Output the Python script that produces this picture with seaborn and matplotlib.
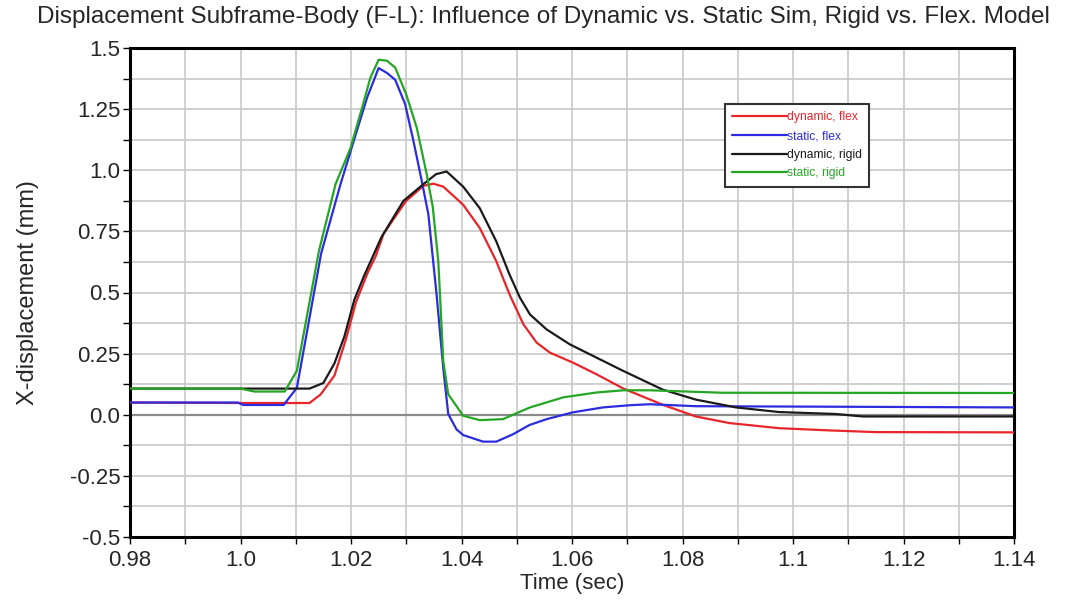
import numpy as np
import pandas as pd
import matplotlib
matplotlib.use("Agg")
import matplotlib.pyplot as plt
from matplotlib.ticker import MultipleLocator
import seaborn as sns

# series (time in sec, displacement in mm)
t_dyn_flex = [0.98, 1.0, 1.0125, 1.0145, 1.017, 1.0191, 1.0209, 1.023, 1.0245, 1.0259, 1.028, 1.030,
              1.0331, 1.0349, 1.0367, 1.0403, 1.0433, 1.0463, 1.0487, 1.0512, 1.0536, 1.056, 1.0602,
              1.0644, 1.0693, 1.0764, 1.0824, 1.0885, 1.0975, 1.1066, 1.115, 1.14]
y_dyn_flex = [0.05, 0.048, 0.048, 0.083, 0.16, 0.31, 0.46, 0.58, 0.65, 0.74, 0.81, 0.875,
              0.936, 0.945, 0.933, 0.859, 0.764, 0.628, 0.492, 0.37, 0.295, 0.254, 0.213,
              0.166, 0.107, 0.041, -0.007, -0.034, -0.055, -0.064, -0.071, -0.072]

t_sta_flex = [0.98, 0.9995, 1.0005, 1.0078, 1.0102, 1.0146, 1.0181, 1.0205, 1.0229, 1.025, 1.0265,
              1.028, 1.0298, 1.0313, 1.0328, 1.034, 1.0355, 1.0367, 1.0376, 1.0391, 1.0403, 1.0439,
              1.0463, 1.0493, 1.0523, 1.0554, 1.0602, 1.0656, 1.0705, 1.0741, 1.0824, 1.14]
y_sta_flex = [0.05, 0.05, 0.04, 0.04, 0.11, 0.66, 0.943, 1.12, 1.296, 1.418, 1.398,
              1.37, 1.27, 1.12, 0.957, 0.82, 0.49, 0.19, 0.003, -0.06, -0.083, -0.11,
              -0.11, -0.08, -0.042, -0.018, 0.01, 0.03, 0.039, 0.043, 0.035, 0.03]

t_dyn_rigid = [0.98, 1.0125, 1.015, 1.017, 1.0188, 1.0206, 1.0224, 1.024, 1.0255, 1.0295, 1.0331,
               1.0354, 1.0373, 1.0403, 1.0433, 1.0463, 1.0487, 1.0506, 1.0524, 1.0554, 1.0596,
               1.0644, 1.0693, 1.0764, 1.0824, 1.0897, 1.0975, 1.1078, 1.1126, 1.14]
y_dyn_rigid = [0.107, 0.107, 0.13, 0.21, 0.32, 0.47, 0.57, 0.65, 0.726, 0.875, 0.943,
               0.984, 0.995, 0.933, 0.845, 0.709, 0.573, 0.478, 0.41, 0.349, 0.288,
               0.234, 0.179, 0.103, 0.062, 0.03, 0.011, 0.003, -0.007, -0.007]

t_sta_rigid = [0.98, 1.0, 1.0025, 1.008, 1.0102, 1.0142, 1.0172, 1.0199, 1.022, 1.0235, 1.025,
               1.0265, 1.028, 1.030, 1.0319, 1.0337, 1.0348, 1.0358, 1.0367, 1.0376, 1.0403,
               1.0433, 1.0475, 1.0524, 1.0584, 1.0644, 1.0693, 1.0741, 1.0873, 1.14]
y_sta_rigid = [0.107, 0.107, 0.095, 0.095, 0.18, 0.67, 0.943, 1.09, 1.255, 1.378, 1.452,
               1.448, 1.42, 1.31, 1.174, 0.984, 0.85, 0.628, 0.22, 0.084, -0.004,
               -0.022, -0.018, 0.03, 0.071, 0.091, 0.1, 0.1, 0.09, 0.089]

labels = ["dynamic, flex", "static, flex", "dynamic, rigid", "static, rigid"]
colors = ["#e8252a", "#2b2be0", "#1a1a1a", "#24a624"]

x_ticks = [0.98, 1.0, 1.02, 1.04, 1.06, 1.08, 1.1, 1.12, 1.14]
x_ticklabels = ["0.98", "1.0", "1.02", "1.04", "1.06", "1.08", "1.1", "1.12", "1.14"]
y_ticks = [-0.5, -0.25, 0.0, 0.25, 0.5, 0.75, 1.0, 1.25, 1.5]
y_ticklabels = ["-0.5", "-0.25", "0.0", "0.25", "0.5", "0.75", "1.0", "1.25", "1.5"]

frames = []
for lab, t, y in zip(labels,
                     [t_dyn_flex, t_sta_flex, t_dyn_rigid, t_sta_rigid],
                     [y_dyn_flex, y_sta_flex, y_dyn_rigid, y_sta_rigid]):
    frames.append(pd.DataFrame({"time": t, "disp": y, "case": lab}))
df = pd.concat(frames, ignore_index=True)

sns.set_style("white")
plt.rcParams['font.family'] = ['Liberation Sans', 'DejaVu Sans']

fig = plt.figure(figsize=(10.77, 6), dpi=100)
ax = fig.add_axes([130 / 1077, 1 - 537 / 600, 884 / 1077, 489 / 600])

sns.lineplot(data=df, x="time", y="disp", hue="case", hue_order=labels,
             palette=dict(zip(labels, colors)), estimator=None, sort=False,
             linewidth=1.6, ax=ax, legend=False, zorder=3)

ax.set_xlim(0.98, 1.14)
ax.set_ylim(-0.5, 1.5)
ax.set_xticks(x_ticks)
ax.set_xticklabels(x_ticklabels)
ax.set_yticks(y_ticks)
ax.set_yticklabels(y_ticklabels)
ax.xaxis.set_minor_locator(MultipleLocator(0.01))
ax.yaxis.set_minor_locator(MultipleLocator(0.125))
ax.grid(which="both", color="#c8c8c8", linewidth=1.2, zorder=0)
ax.axhline(0, color="#8a8a8a", linewidth=1.6, zorder=1)
ax.tick_params(which="both", direction="out", length=5, width=1, color="black",
               labelsize=16, bottom=True, left=True)
ax.tick_params(axis="x", pad=4)
ax.tick_params(axis="y", pad=2)
for s in ax.spines.values():
    s.set_linewidth(2.2)
    s.set_color("black")

ax.set_xlabel("Time (sec)", fontsize=16, labelpad=2)
ax.set_ylabel("X-displacement (mm)", fontsize=17, labelpad=22)
fig.suptitle("Displacement Subframe-Body (F-L): Influence of Dynamic vs. Static Sim, Rigid vs. Flex. Model",
             x=0.505, y=0.99, fontsize=17.5)

handles = [plt.Line2D([], [], color=c, linewidth=1.6) for c in colors]
leg = ax.legend(handles, labels, loc="upper left", bbox_to_anchor=(0.673, 0.885),
                borderaxespad=0, fontsize=8.7, handlelength=4.5, handletextpad=0,
                labelspacing=0.55, borderpad=0.6, fancybox=False, framealpha=1,
                edgecolor="#333333")
leg.get_frame().set_linewidth(1.5)
for txt, c in zip(leg.get_texts(), colors):
    txt.set_color(c)

fig.savefig("out.png", dpi=100)
